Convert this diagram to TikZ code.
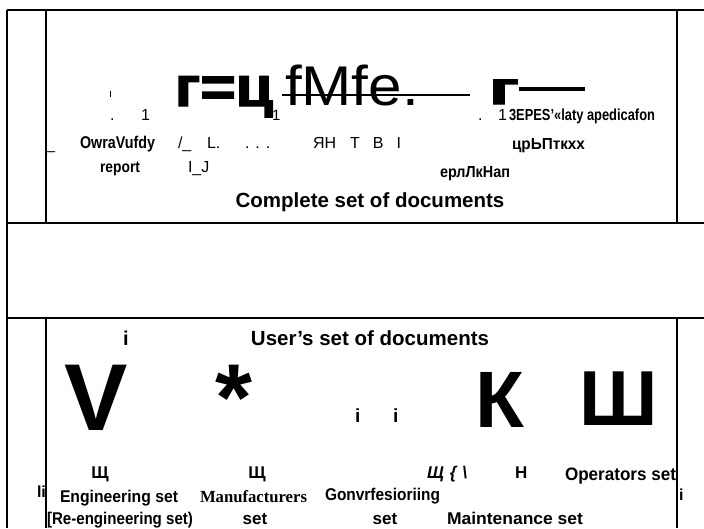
\documentclass[tikz,border=0pt]{standalone}
\usepackage{fontspec}
\usepackage{graphicx}
\setmainfont{Liberation Sans}
\newfontfamily\serifbf{Liberation Serif}
\newfontfamily\heavyfont{Liberation Sans}[BoldFeatures={FakeBold=2.5}]
\newcommand\myfs[1]{\fontsize{#1}{#1}\selectfont}
\newcommand\fitw[2]{\resizebox{#1}{\height}{#2}}
\tikzset{
  t/.style={inner sep=0pt, outer sep=0pt, anchor=base west},
  tc/.style={inner sep=0pt, outer sep=0pt, anchor=base},
  frame/.style={line width=1.4pt},
}
\begin{document}
\begin{tikzpicture}[x=1pt,y=-1pt]
\useasboundingbox (0,0) rectangle (704,528);
% frame
\draw[frame] (7,10) -- (704,10);
\draw[frame] (7,10) -- (7,528);
\draw[frame] (46,10) -- (46,223);
\draw[frame] (46,318) -- (46,528);
\draw[frame] (677,10) -- (677,223);
\draw[frame] (677,318) -- (677,528);
\draw[frame] (7,223) -- (704,223);
\draw[frame] (7,318) -- (704,318);

% top box
\node[t] (gzc) at (175,106) {\myfs{56}\heavyfont\bfseries\fitw{98pt}{г=ц}};
\node[t] (sub1) at (272,120) {\myfs{15}1};
\node[t] (fmfe) at (285,105) {\myfs{56}\fitw{134pt}{fMfe.}};
\draw[line width=2.5pt] (282,95) -- (470,95);
\node[t] (g2) at (489,104) {\myfs{46}\heavyfont\bfseries\resizebox{30pt}{\height}{г}};
\draw[line width=3.5pt] (519,89) -- (585,89);
\draw[line width=1pt] (110,91) -- (110,97);
\node[t] (dot1) at (110,120) {\myfs{16}.};
\node[t] (one1) at (141,120) {\myfs{16}1};
\node[t] (dot2) at (478,120) {\myfs{16}.};
\node[t] (one2) at (498,120) {\myfs{16}1};
\node[t] (spec) at (509,120) {\myfs{16}\bfseries\fitw{146pt}{3EPES'«laty apedicafon}};
\node[t] (us) at (46,149) {\myfs{16}\_};
\node[t] (owra) at (80,148) {\myfs{17}\bfseries\fitw{75pt}{OwraVufdy}};
\node[t] (sl) at (178,148) {\myfs{16}/\_};
\node[t] (ldot) at (207,148) {\myfs{16}L.};
\node[t] (dots) at (245,148) {\myfs{16}.\hspace{6pt}.\hspace{6pt}.};
\node[t] (yan) at (313,148) {\myfs{16}ЯН\hspace{14pt}Т\hspace{13pt}В\hspace{13pt}I};
\node[t] (tsr) at (512,149) {\myfs{16}\bfseries\fitw{73pt}{црЬПткхх}};
\node[t] (report) at (100,172) {\myfs{16}\bfseries\fitw{40pt}{report}};
\node[t] (ij) at (188,172) {\myfs{16}I\_J};
\node[t] (erl) at (440,177) {\myfs{16}\bfseries\fitw{70pt}{ерлЛкНап}};
\node[tc] (complete) at (370,207) {\myfs{20.5}\bfseries Complete set of documents};

% bottom box
\node[t] (i1) at (123,345) {\myfs{20}\bfseries i};
\node[tc] (users) at (370,345) {\myfs{20.5}\bfseries User's set of documents};
\node[tc] (bigv) at (96,430) {\myfs{95}\bfseries V};
\node[tc] (star) at (234,430) {\myfs{95}\bfseries *};
\node[t] (i2) at (355,422) {\myfs{19}\bfseries i};
\node[t] (i3) at (393,422) {\myfs{19}\bfseries i};
\node[tc] (bigk) at (500,427) {\myfs{80}\bfseries К};
\node[tc] (bigsh) at (619,425) {\myfs{78}\bfseries Ш};
\node[tc] (sh1) at (100,478) {\myfs{17}\bfseries Щ};
\node[tc] (sh2) at (257,478) {\myfs{17}\bfseries Щ};
\node[t] (sh3) at (427,478) {\myfs{17}\bfseries\itshape Щ\hspace{6pt}\{\hspace{6pt}\textbackslash};
\node[t] (hh) at (515,478) {\myfs{17}\bfseries H};
\node[t] (oper) at (565,480) {\myfs{18}\bfseries\fitw{111pt}{Operators set}};
\node[t] (li) at (37,497) {\myfs{16}\bfseries li};
\node[t] (iright) at (679,500) {\myfs{16}\bfseries i};
\node[t] (eng) at (60,502) {\myfs{17}\bfseries\fitw{118pt}{Engineering set}};
\node[t] (reeng) at (47,524) {\myfs{17}\bfseries\fitw{146pt}{[Re-engineering set)}};
\node[t] (manu) at (200,502) {\myfs{17}\serifbf\bfseries\fitw{107pt}{Manufacturers}};
\node[tc] (set1) at (255,524) {\myfs{17}\bfseries set};
\node[t] (gonv) at (325,500) {\myfs{17}\bfseries\fitw{115pt}{Gonvrfesioriing}};
\node[tc] (set2) at (385,524) {\myfs{17}\bfseries set};
\node[t] (maint) at (447,524) {\myfs{17}\bfseries\fitw{136pt}{Maintenance set}};
\end{tikzpicture}
\end{document}
